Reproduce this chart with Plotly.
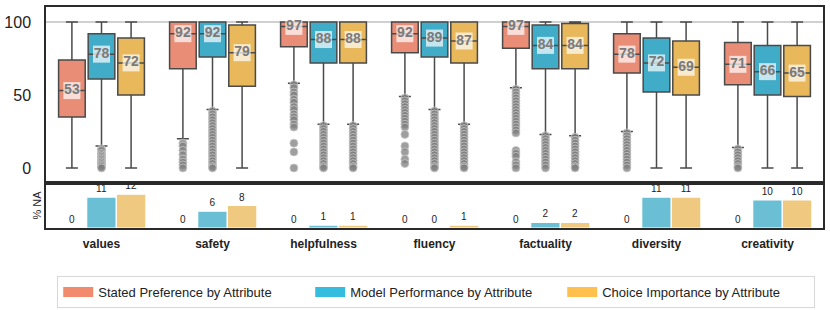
import plotly.graph_objects as go
from plotly.subplots import make_subplots

categories = ["values", "safety", "helpfulness", "fluency", "factuality", "diversity", "creativity"]
series_names = ["Stated Preference by Attribute", "Model Performance by Attribute", "Choice Importance by Attribute"]

# box statistics
stated_q1 = [35, 68, 83, 79, 82, 65, 57]
stated_med = [53, 92, 97, 92, 97, 78, 71]
stated_q3 = [74, 100, 100, 100, 100, 92, 86]
stated_lo = [0, 20, 58, 49, 55, 25, 14]
stated_hi = [100, 100, 100, 100, 100, 100, 100]

model_q1 = [61, 76, 72, 76, 68, 52, 50]
model_med = [78, 92, 88, 89, 84, 72, 66]
model_q3 = [92, 100, 100, 100, 98, 89, 84]
model_lo = [15, 40, 30, 40, 23, 0, 0]
model_hi = [100, 100, 100, 100, 100, 100, 100]

choice_q1 = [50, 56, 72, 72, 68, 50, 49]
choice_med = [72, 79, 88, 87, 84, 69, 65]
choice_q3 = [89, 98, 100, 100, 99, 87, 84]
choice_lo = [0, 0, 30, 30, 22, 0, 0]
choice_hi = [100, 100, 100, 100, 100, 100, 100]

# outliers per category
stated_out = [
    [],
    [17, 15, 12, 9, 6, 4, 2, 0],
    [57, 55, 52, 50, 47, 45, 42, 40, 37, 35, 33, 30, 28, 17, 11, 0],
    [48, 46, 44, 42, 40, 38, 36, 34, 32, 30, 28, 23, 15, 11, 6, 3],
    [54, 52, 50, 48, 46, 44, 42, 40, 38, 36, 34, 32, 30, 28, 26, 24, 12, 10, 8, 4, 2, 0],
    [24, 22, 20, 18, 16, 14, 12, 10, 8, 6, 4, 2, 0],
    [13, 11, 9, 7, 5, 3, 1, 0],
]
model_out = [
    [13, 12, 10, 9, 8, 7, 6, 5, 4, 3, 2, 1, 0],
    [39, 37, 35, 33, 31, 29, 27, 25, 23, 21, 19, 17, 15, 13, 11, 9, 7, 5, 3, 1, 0],
    [29, 27, 25, 23, 21, 19, 17, 15, 13, 11, 9, 7, 5, 3, 1, 0],
    [39, 37, 35, 33, 31, 29, 27, 25, 23, 21, 19, 17, 15, 13, 11, 9, 7, 5, 3, 1, 0],
    [22, 20, 18, 16, 14, 12, 10, 8, 6, 4, 2, 0],
    [],
    [],
]
choice_out = [
    [],
    [],
    [29, 27, 25, 23, 21, 19, 17, 15, 13, 11, 9, 7, 5, 3, 1, 0],
    [29, 27, 25, 23, 21, 19, 17, 15, 13, 11, 9, 7, 5, 3, 1, 0],
    [21, 19, 17, 15, 13, 11, 9, 7, 5, 3, 1, 0],
    [],
    [],
]

# % NA
na_stated = [0, 0, 0, 0, 0, 0, 0]
na_model = [11, 6, 1, 0, 2, 11, 10]
na_choice = [12, 8, 1, 1, 2, 11, 10]

y_ticks = [0, 50, 100]
ref_line = 100

box_colors = ["#E98D76", "#40ACC8", "#E8B85A"]
bar_colors = ["#EF9A85", "#6BBFD5", "#EEC97F"]
legend_colors = ["#F28A6E", "#35BCDF", "#FFC04D"]
line_col = "#4a4a4a"

fig = make_subplots(rows=2, cols=1, shared_xaxes=True, vertical_spacing=0,
                    row_heights=[0.7964, 0.2036])

stats = [
    (stated_q1, stated_med, stated_q3, stated_lo, stated_hi, stated_out, na_stated),
    (model_q1, model_med, model_q3, model_lo, model_hi, model_out, na_model),
    (choice_q1, choice_med, choice_q3, choice_lo, choice_hi, choice_out, na_choice),
]

for j, (q1, med, q3, lo, hi, outs, na) in enumerate(stats):
    g = str(j + 1)
    fig.add_trace(go.Box(
        x=categories, q1=q1, median=med, q3=q3, lowerfence=lo, upperfence=hi,
        offsetgroup=g, alignmentgroup="a", name=series_names[j], showlegend=False,
        fillcolor=box_colors[j], line=dict(color=line_col, width=1.5),
        whiskerwidth=0.45, boxpoints=False, hoverinfo="skip",
    ), row=1, col=1)
    ox, oy = [], []
    for c, vals in zip(categories, outs):
        for v in vals:
            ox.append(c)
            oy.append(v)
    fig.add_trace(go.Scatter(
        x=ox, y=oy, mode="markers", offsetgroup=g, alignmentgroup="a",
        showlegend=False, hoverinfo="skip",
        marker=dict(size=8, color="rgba(125,125,125,0.75)",
                    line=dict(color="rgba(200,200,200,0.8)", width=1)),
    ), row=1, col=1)
    fig.add_trace(go.Scatter(
        x=categories, y=med, mode="markers+text", offsetgroup=g, alignmentgroup="a",
        text=[str(m) for m in med], textposition="middle center",
        textfont=dict(size=14, color="#7a7a7a", family="Liberation Sans", weight="bold"),
        marker=dict(symbol="square", size=17, color="rgba(255,255,255,0.7)"),
        showlegend=False, hoverinfo="skip", cliponaxis=False,
    ), row=1, col=1)
    fig.add_trace(go.Bar(
        x=categories, y=na, offsetgroup=g, alignmentgroup="b",
        marker=dict(color=bar_colors[j], line=dict(color="white", width=1.2)),
        text=[str(v) for v in na], textposition="outside",
        textfont=dict(size=10, color="#222"), cliponaxis=False,
        showlegend=False, hoverinfo="skip",
    ), row=2, col=1)
    fig.add_trace(go.Scatter(
        x=[None], y=[None], mode="lines", name=series_names[j],
        line=dict(color=legend_colors[j], width=10),
    ), row=1, col=1)

fig.add_hline(y=ref_line, line=dict(color="#d0d0d0", width=2), layer="below", row=1, col=1)

axis_line = dict(showline=True, mirror=True, linecolor="#2a2a2a", linewidth=1.5,
                 showgrid=False, zeroline=False, ticks="")

fig.update_layout(
    width=830, height=310,
    margin=dict(l=46, r=7, t=7, b=82, autoexpand=False),
    paper_bgcolor="white", plot_bgcolor="white",
    font=dict(family="Liberation Sans", color="#222"),
    boxmode="group", boxgap=0.2, boxgroupgap=0.1,
    barmode="group", bargap=0.2, bargroupgap=0.0,
    scattermode="group", scattergap=0.2,
    legend=dict(orientation="h", x=0.9900, xanchor="right", y=-0.217, yanchor="top",
                bordercolor="#d8d8d8", borderwidth=1, bgcolor="white",
                font=dict(size=13, color="#222"), entrywidth=207, entrywidthmode="pixels"),
)
fig.update_xaxes(axis_line, range=[-0.5, 6.5], type="category")
fig.update_xaxes(showticklabels=False, row=1, col=1)
fig.update_xaxes(tickfont=dict(size=12, color="#222", weight="bold"), ticklabelstandoff=4,
                 row=2, col=1)
fig.update_yaxes(axis_line)
fig.update_yaxes(range=[-10.3, 110.3], tickvals=y_ticks, tickfont=dict(size=16, color="#222"),
                 ticklabelstandoff=10, row=1, col=1)
fig.update_yaxes(range=[0, 16], showticklabels=False,
                 title=dict(text="% NA", font=dict(size=11, color="#222"), standoff=0),
                 row=2, col=1)

fig.write_html("out.html", config={"displayModeBar": False},
               post_script="document.body.style.margin='0';")
